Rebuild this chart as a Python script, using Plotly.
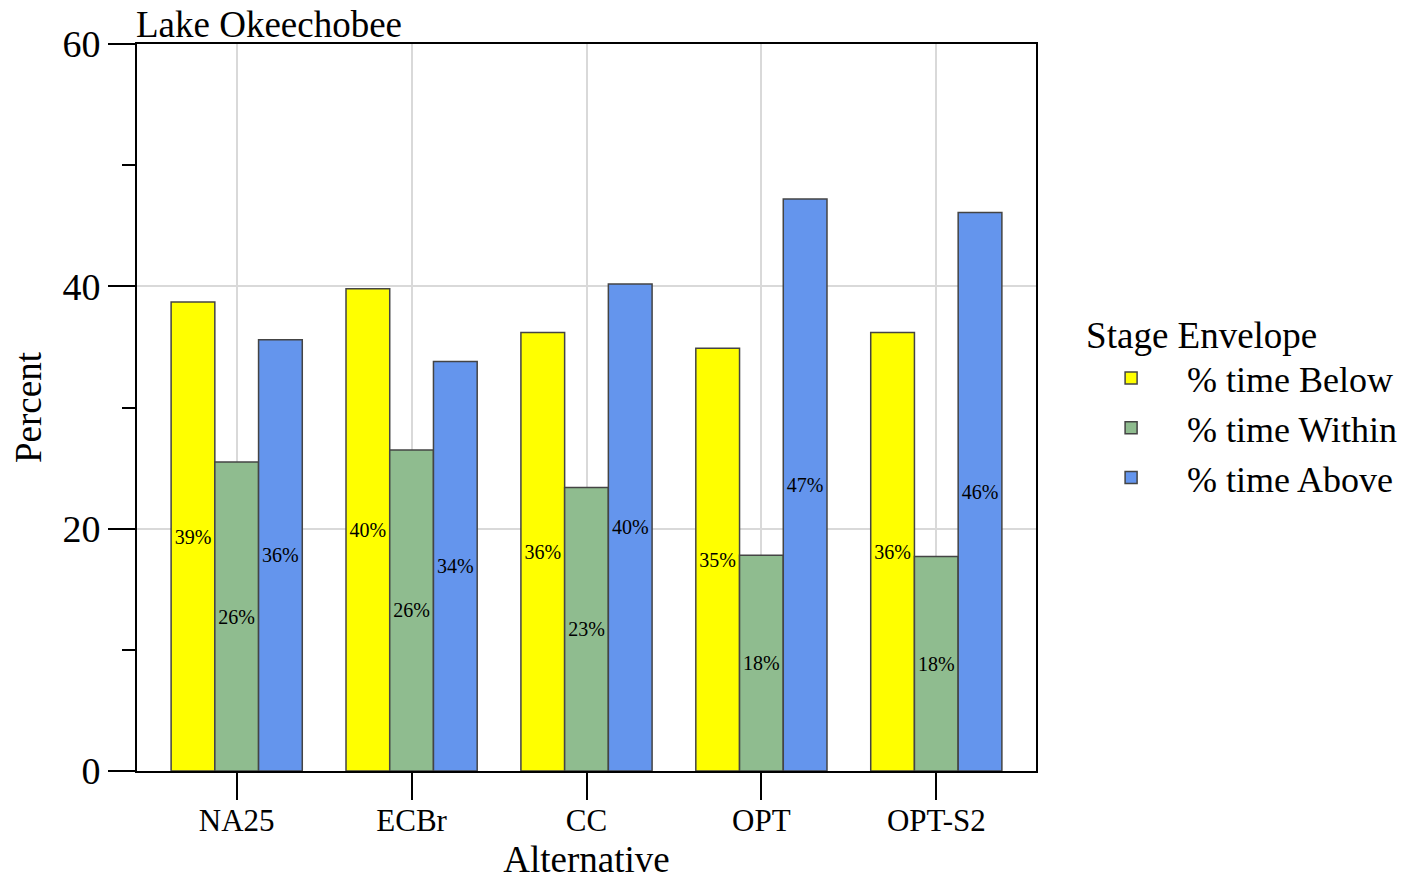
import plotly.graph_objects as go

# Lake Okeechobee stage envelope, % of time per alternative
alternatives = ["NA25", "ECBr", "CC", "OPT", "OPT-S2"]
pct_below = [38.7, 39.8, 36.2, 34.9, 36.2]
pct_within = [25.5, 26.5, 23.4, 17.8, 17.7]
pct_above = [35.6, 33.8, 40.2, 47.2, 46.1]
series_names = ["% time Below", "% time Within", "% time Above"]
series_colors = ["#ffff00", "#8fbc8f", "#6495ed"]

FONT = "Liberation Serif, Times New Roman, serif"
PAD = "\u00a0" * 4  # push legend text right of the swatch

fig = go.Figure()
for name, vals, col in zip(series_names, [pct_below, pct_within, pct_above], series_colors):
    fig.add_trace(go.Bar(
        x=alternatives, y=vals, name=PAD + name,
        marker=dict(color=col, line=dict(color="#444444", width=1.5)),
        text=[f"{round(v)}%" for v in vals],
        textposition="inside", insidetextanchor="middle", textangle=0,
        constraintext="none",
        textfont=dict(family=FONT, size=20, color="black"),
    ))

# page body adds ~8px offset, margins compensate
fig.update_layout(
    width=1420, height=882,
    barmode="group", bargap=0.25, bargroupgap=0,
    plot_bgcolor="white", paper_bgcolor="white",
    font=dict(family=FONT, color="black"),
    margin=dict(l=129, r=392, t=36, b=119),
    uniformtext=dict(minsize=20, mode="show"),
    legend=dict(
        title=dict(text="Stage Envelope", font=dict(size=37)),
        font=dict(size=36),
        x=1.0535, y=0.648, xanchor="left", yanchor="top",
        indentation=27, tracegroupgap=0,
    ),
    annotations=[dict(
        text="Lake Okeechobee", x=0, y=1, xref="paper", yref="paper",
        xanchor="left", yanchor="bottom", showarrow=False,
        font=dict(size=37), yshift=-3, xshift=-3,
    )],
)

fig.update_xaxes(
    range=[-0.57, 4.57], automargin=False,
    showline=True, linecolor="black", linewidth=2, mirror=True,
    ticks="outside", ticklen=27, tickwidth=2, tickcolor="black",
    tickfont=dict(size=31), ticklabelstandoff=-6,
    showgrid=True, gridcolor="#d9d9d9", gridwidth=2,
    title=dict(text="Alternative", font=dict(size=37), standoff=9),
)
fig.update_yaxes(
    range=[0, 60], tickvals=[0, 20, 40, 60], automargin=False,
    showline=True, linecolor="black", linewidth=2, mirror=True,
    ticks="outside", ticklen=27, tickwidth=2, tickcolor="black",
    tickfont=dict(size=38),
    showgrid=True, gridcolor="#d9d9d9", gridwidth=2, zeroline=False,
    minor=dict(tickvals=[10, 30, 50], ticks="outside", ticklen=13,
               tickwidth=2, tickcolor="black", showgrid=False),
    title=dict(text="Percent", font=dict(size=37), standoff=14),
)

fig.write_html("out.html")
